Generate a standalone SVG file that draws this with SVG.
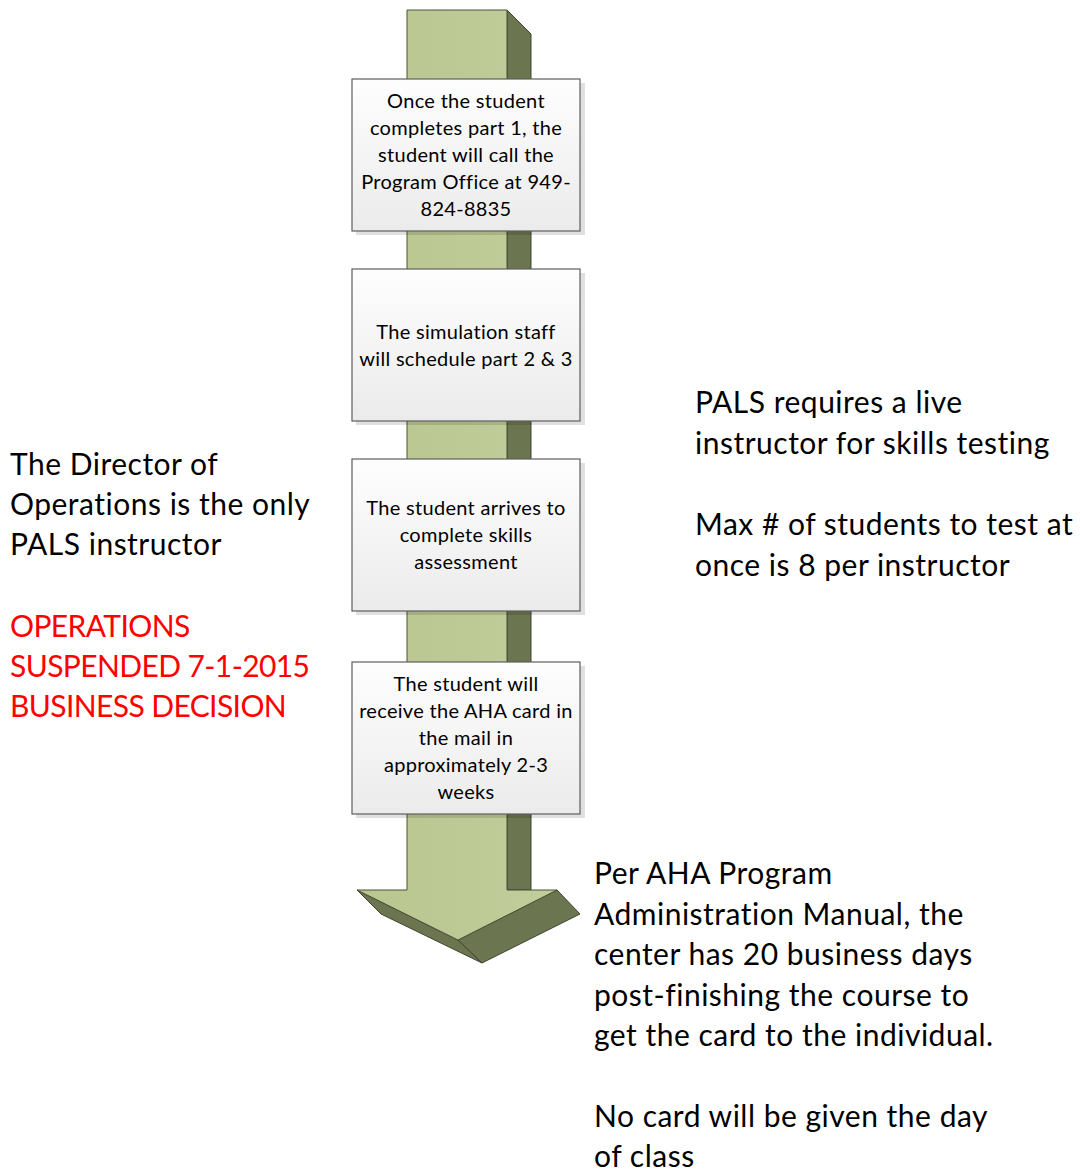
<svg xmlns="http://www.w3.org/2000/svg" width="1080" height="1173" viewBox="0 0 1080 1173">
<style>
.box{fill:url(#boxg);stroke:#5E5E5E;stroke-width:1.2}
.shadow{fill:#000;opacity:0.12}
.bt{font-family:Lato,"Liberation Sans",sans-serif;font-size:20px;letter-spacing:0.3px;fill:#000;text-anchor:middle}
.side{font-family:Lato,"Liberation Sans",sans-serif;font-size:30px;letter-spacing:0.5px;fill:#000}
.red{fill:#FF0000;letter-spacing:-0.6px}
.front{fill:url(#greeng);stroke:#4A5235;stroke-width:1}
.dark{fill:#6B7550;stroke:#3E4530;stroke-width:1}
</style>
<defs>
<linearGradient id="boxg" x1="0" y1="0" x2="0" y2="1">
<stop offset="0" stop-color="#FEFEFE"/>
<stop offset="1" stop-color="#EBEBEB"/>
</linearGradient>
<linearGradient id="greeng" x1="0" y1="0" x2="1" y2="0">
<stop offset="0" stop-color="#B9C68F"/>
<stop offset="1" stop-color="#C1CD9B"/>
</linearGradient>
</defs>
<g id="arrow">
<polygon class="dark" points="507,10 531,34 531,890 507,890"/>
<polygon class="dark" points="357,890 381,914 482,963 458,940"/>
<polygon class="dark" points="458,940 557,890 580,914 482,963"/>
<polygon class="front" points="407,10 507,10 507,890 557,890 458,940 357,890 407,890"/>
</g>
<g id="connectors"></g>
<g id="step1">
<rect class="shadow" x="356" y="83" width="229" height="152"/>
<rect class="box" x="352" y="79" width="228" height="152"/>
<text class="bt" x="466" y="108">Once the student</text>
<text class="bt" x="466" y="135">completes part 1, the</text>
<text class="bt" x="466" y="162">student will call the</text>
<text class="bt" x="466" y="189">Program Office at 949-</text>
<text class="bt" x="466" y="216">824-8835</text>
</g>
<g id="step2">
<rect class="shadow" x="356" y="273" width="229" height="152"/>
<rect class="box" x="352" y="269" width="228" height="152"/>
<text class="bt" x="466" y="339">The simulation staff</text>
<text class="bt" x="466" y="366">will schedule part 2 &amp; 3</text>
</g>
<g id="step3">
<rect class="shadow" x="356" y="463" width="229" height="152"/>
<rect class="box" x="352" y="459" width="228" height="152"/>
<text class="bt" x="466" y="515">The student arrives to</text>
<text class="bt" x="466" y="542">complete skills</text>
<text class="bt" x="466" y="569">assessment</text>
</g>
<g id="step4">
<rect class="shadow" x="356" y="666" width="229" height="152"/>
<rect class="box" x="352" y="662" width="228" height="152"/>
<text class="bt" x="466" y="691">The student will</text>
<text class="bt" x="466" y="718">receive the AHA card in</text>
<text class="bt" x="466" y="745">the mail in</text>
<text class="bt" x="466" y="772">approximately 2-3</text>
<text class="bt" x="466" y="799">weeks</text>
</g>
<g id="note-left">
<text class="side" x="10" y="475">The Director of</text>
<text class="side" x="10" y="515">Operations is the only</text>
<text class="side" x="10" y="555">PALS instructor</text>
<text class="side red" x="10" y="637">OPERATIONS</text>
<text class="side red" x="10" y="677">SUSPENDED 7-1-2015</text>
<text class="side red" x="10" y="717">BUSINESS DECISION</text>
</g>
<g id="note-right">
<text class="side" x="695" y="413">PALS requires a live</text>
<text class="side" x="695" y="454">instructor for skills testing</text>
<text class="side" x="695" y="535">Max # of students to test at</text>
<text class="side" x="695" y="576">once is 8 per instructor</text>
</g>
<g id="note-bottom">
<text class="side" x="594" y="884">Per AHA Program</text>
<text class="side" x="594" y="925">Administration Manual, the</text>
<text class="side" x="594" y="965">center has 20 business days</text>
<text class="side" x="594" y="1006">post-finishing the course to</text>
<text class="side" x="594" y="1046">get the card to the individual.</text>
<text class="side" x="594" y="1127">No card will be given the day</text>
<text class="side" x="594" y="1167">of class</text>
</g>
</svg>
